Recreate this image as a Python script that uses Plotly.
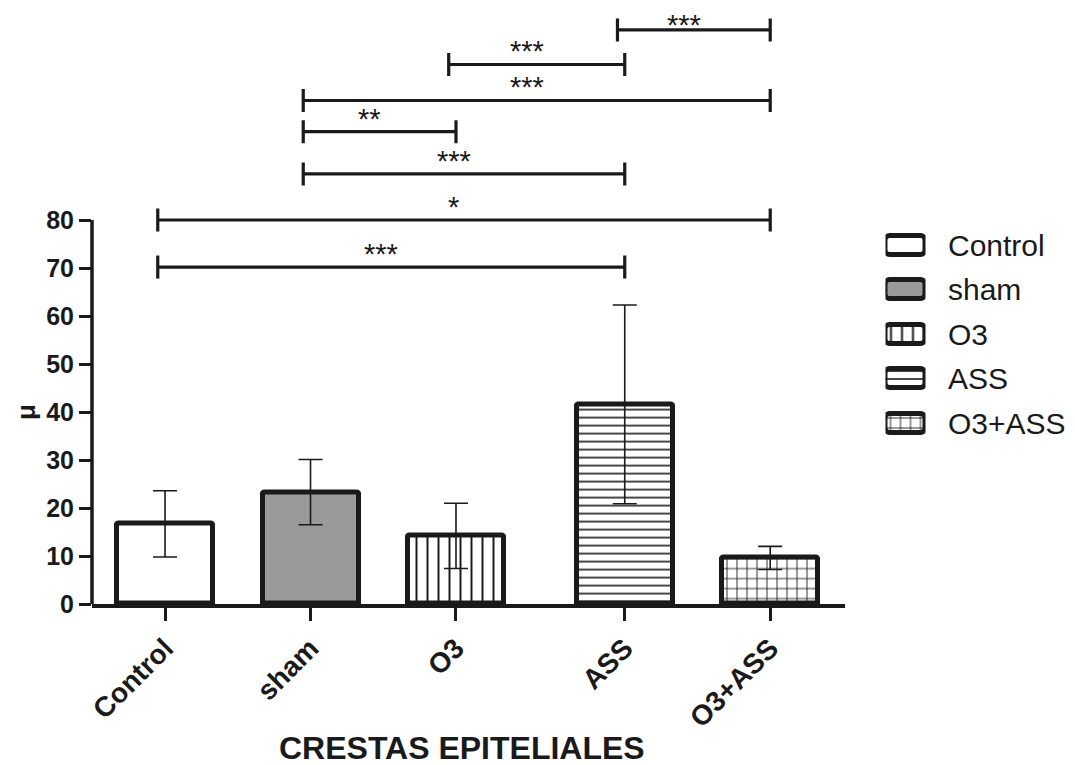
import plotly.graph_objects as go

# ---------------- data ----------------
groups = ["Control", "sham", "O3", "ASS", "O3+ASS"]
means = [16.7, 23.3, 14.2, 41.6, 9.6]
sds = [6.9, 6.8, 6.8, 20.7, 2.4]

y_ticks = [0, 10, 20, 30, 40, 50, 60, 70, 80]

bracket_from = ["Control", "Control", "sham", "sham", "sham", "O3", "ASS"]
bracket_to = ["ASS", "O3+ASS", "ASS", "O3", "O3+ASS", "ASS", "O3+ASS"]
bracket_y = [70.2, 80.0, 89.6, 98.4, 104.9, 112.4, 119.6]
bracket_label = ["***", "*", "***", "**", "***", "***", "***"]

x_title = "CRESTAS EPITELIALES"
y_title = "μ"

# ---------------- layout / style ----------------
OFF = 8                      # page body margin
W, H = 1075 - OFF, 765 - OFF


def px(p):                   # page x pixel -> paper fraction
    return (p - OFF) / W


def py(p):                   # page y pixel -> paper fraction
    return (H - (p - OFF)) / H


pos = [0, 1, 2, 3.16, 4.16]          # group slots on the x axis (gap before ASS)
gpos = dict(zip(groups, pos))
INK = "#1a1a1a"
FONT = "Arial, Liberation Sans, Helvetica, sans-serif"

fills = ["white", "#9a9a9a", INK, INK, INK]
shapes_p = ["", "", "|", "-", "+"]
psizes = [8, 8, 11, 8, 10]
psolid = [0.2, 0.2, 0.18, 0.2, 0.17]


def marker(radius=0):
    return dict(
        color=fills,
        line=dict(color=INK, width=5),
        cornerradius=radius,
        pattern=dict(shape=shapes_p, size=psizes, solidity=psolid,
                     fillmode="replace"),
    )


fig = go.Figure()

fig.add_trace(go.Bar(
    x=pos, y=means, width=0.66,
    marker=marker(2),
    error_y=dict(type="data", array=sds, visible=True, color=INK,
                 thickness=1.6, width=12),
    showlegend=False, hoverinfo="skip",
))

# significance brackets
bx, by = [], []
cap = 2.4
for a, b, yy in zip(bracket_from, bracket_to, bracket_y):
    x0 = gpos[a] - 0.05
    x1 = gpos[b]
    bx += [x0, x1, None, x0, x0, None, x1, x1, None]
    by += [yy, yy, None, yy - cap, yy + cap, None, yy - cap, yy + cap, None]
fig.add_trace(go.Scatter(x=bx, y=by, mode="lines",
                         line=dict(color=INK, width=3.2),
                         showlegend=False, hoverinfo="skip", cliponaxis=False))

annotations = []
ymax_b = max(bracket_y)
for a, b, yy, lab in zip(bracket_from, bracket_to, bracket_y, bracket_label):
    xm = (gpos[a] - 0.05 + gpos[b]) / 2
    shift = -5 if yy < ymax_b else -13   # keep the top label inside the page
    annotations.append(dict(x=xm, y=yy, xref="x", yref="y", text=lab,
                            showarrow=False, xanchor="center", yanchor="bottom",
                            xshift=-10, yshift=shift,
                            font=dict(family=FONT, size=29, color=INK)))

# custom legend drawn on a small second axis
fig.add_trace(go.Bar(
    y=groups, x=[1] * len(groups), base=0, orientation="h", width=0.42,
    marker=marker(5), xaxis="x2", yaxis="y2",
    showlegend=False, hoverinfo="skip",
))
for g in groups:
    annotations.append(dict(x=1, y=g, xref="x2", yref="y2", text=g,
                            showarrow=False, xanchor="left", yanchor="middle",
                            xshift=20,
                            font=dict(family=FONT, size=30, color=INK)))

# axis titles
annotations.append(dict(x=px(462), y=py(748), xref="paper", yref="paper",
                        text="<b>%s</b>" % x_title, showarrow=False,
                        xanchor="center", yanchor="middle",
                        font=dict(family=FONT, size=32, color=INK)))
annotations.append(dict(x=px(26), y=40, xref="paper", yref="y",
                        text="<b>%s</b>" % y_title, showarrow=False, textangle=-90,
                        xanchor="center", yanchor="middle",
                        font=dict(family=FONT, size=26, color=INK)))

y0_page, ppu = 604, 4.8
ytop = 123
fig.update_layout(
    width=W, height=H,
    margin=dict(l=0, r=0, t=0, b=0),
    paper_bgcolor="white", plot_bgcolor="white",
    bargap=0,
    xaxis=dict(domain=[px(92), px(845)], range=[-0.502, 4.674],
               tickvals=pos, ticktext=["<b>%s</b>" % g for g in groups],
               tickangle=-45, ticks="outside", ticklen=13, tickwidth=3,
               tickcolor=INK, showline=True, linewidth=3.5, linecolor=INK,
               showgrid=False, zeroline=False, automargin=False,
               tickfont=dict(family=FONT, size=28, color=INK)),
    yaxis=dict(domain=[py(y0_page), py(y0_page - ytop * ppu)],
               range=[0, ytop], tickvals=y_ticks,
               ticktext=["<b>%d</b>" % v for v in y_ticks],
               ticks="outside", ticklen=12, tickwidth=3, tickcolor=INK,
               showline=False, showgrid=False, zeroline=False, automargin=False,
               tickfont=dict(family=FONT, size=25, color=INK)),
    xaxis2=dict(domain=[px(885.5), px(925.5)], range=[0, 1], anchor="y2",
                visible=False, showgrid=False, zeroline=False),
    yaxis2=dict(domain=[py(445.5), py(223)], range=[4.5, -0.5],
                type="category", anchor="x2", visible=False, showgrid=False),
    shapes=[dict(type="line", xref="x domain", yref="y", x0=0, x1=0,
                 y0=0, y1=80, line=dict(color=INK, width=3.5))],
    annotations=annotations,
)

fig.write_html("out.html")
